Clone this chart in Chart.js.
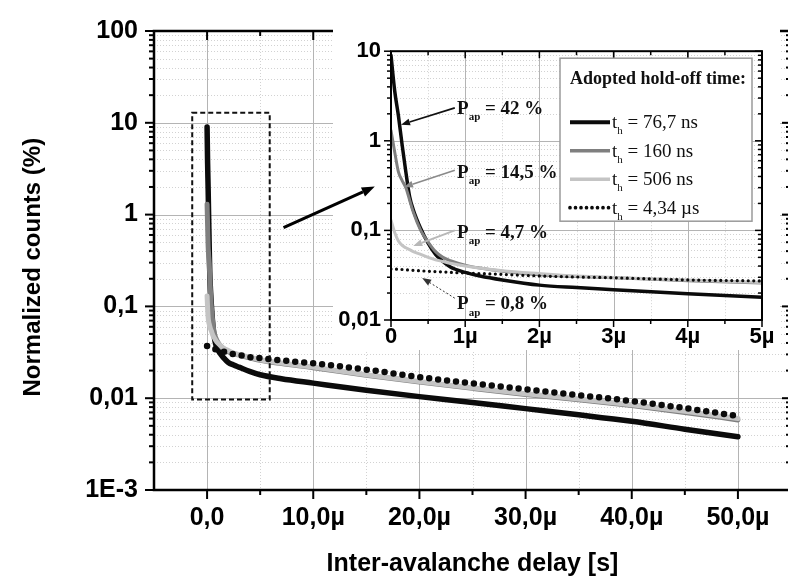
<!DOCTYPE html>
<html>
<head>
<meta charset="utf-8">
<title>Inter-avalanche delay</title>
<script src="https://cdn.jsdelivr.net/npm/chart.js@4.4.1/dist/chart.umd.min.js"></script>
<style>
  body { margin: 0; background: #fff; }
  #wrap { position: relative; width: 788px; height: 581px; overflow: hidden; }
  #mainChart { position: absolute; left: 0; top: 0; }
  #insetChart { position: absolute; left: 333px; top: 28px; }
</style>
</head>
<body>
<div id="wrap">
  <canvas id="mainChart" width="791" height="581"></canvas>
  <canvas id="insetChart" width="447" height="322"></canvas>
</div>
<script>
// inter-avalanche delay, microseconds
var delay = [0, 0.05, 0.1, 0.15, 0.2, 0.25, 0.3, 0.4, 0.5, 0.6, 0.7, 0.8, 1.0, 1.2, 1.5,
             2, 2.5, 3, 4, 5, 7, 10, 15, 20, 25, 30, 35, 40, 45, 50];
// normalized counts (%) for each hold-off time
var counts767 = [9.0, 3.6, 1.9, 0.9, 0.45, 0.24, 0.17, 0.105, 0.072, 0.054, 0.045, 0.039, 0.034, 0.031, 0.028,
                 0.0245, 0.023, 0.0218, 0.0196, 0.018, 0.0163, 0.0146, 0.0122, 0.0104, 0.009, 0.0077, 0.0066, 0.0056, 0.0046, 0.0038];
var counts160 = [1.3, 0.75, 0.45, 0.36, 0.3, 0.22, 0.16, 0.1, 0.074, 0.058, 0.05, 0.046, 0.041, 0.038, 0.035,
                 0.032, 0.0305, 0.0296, 0.0275, 0.0258, 0.0238, 0.0215, 0.0178, 0.015, 0.0128, 0.011, 0.0096, 0.0083, 0.007, 0.0058];
var counts506 = [0.13, 0.095, 0.076, 0.068, 0.064, 0.061, 0.058, 0.054, 0.05, 0.047, 0.045, 0.043, 0.04, 0.038, 0.0355,
                 0.033, 0.031, 0.0298, 0.028, 0.0262, 0.0242, 0.0218, 0.018, 0.0152, 0.013, 0.0112, 0.0098, 0.0085, 0.0072, 0.006];
var counts434 = [0.037, 0.037, 0.0368, 0.0366, 0.0364, 0.036, 0.0358, 0.0354, 0.035, 0.0347, 0.0344, 0.034, 0.0335, 0.033, 0.0323,
                 0.031, 0.0302, 0.0296, 0.028, 0.0273, 0.0258, 0.024, 0.0205, 0.017, 0.0145, 0.0125, 0.0108, 0.0093, 0.0078, 0.0064];
var seriesNames = ['76,7 ns', '160 ns', '506 ns', '4,34 \u00b5s'];

var mainXTicks = [0, 10, 20, 30, 40, 50];
var mainXLabels = ['0,0', '10,0\u00b5', '20,0\u00b5', '30,0\u00b5', '40,0\u00b5', '50,0\u00b5'];
var mainYTicks = [0.001, 0.01, 0.1, 1, 10, 100];
var mainYLabels = ['1E-3', '0,01', '0,1', '1', '10', '100'];
var insetXTicks = [0, 1, 2, 3, 4, 5];
var insetXLabels = ['0', '1\u00b5', '2\u00b5', '3\u00b5', '4\u00b5', '5\u00b5'];
var insetYTicks = [0.01, 0.1, 1, 10];
var insetYLabels = ['0,01', '0,1', '1', '10'];

// afterpulsing probability call-outs in the inset
var apLabels = ['42 %', '14,5 %', '4,7 %', '0,8 %'];
var apTextY = [2.33, 0.46, 0.097, 0.0155];
var apTailY = [2.33, 0.47, 0.1, 0.0175];
var apTipX = [0.135, 0.175, 0.3, 0.42];
var apTipY = [1.51, 0.305, 0.067, 0.0295];

var SANS = '"Liberation Sans", Arial, sans-serif';
var SERIF = '"Liberation Serif", "Times New Roman", serif';
var seriesColors = ['#0b0b0b', '#7f7f7f', '#c4c4c4', '#0b0b0b'];

function makeDatasets(widths, dots) {
    var all = [counts767, counts160, counts506, counts434];
    return all.map(function (ys, i) {
        return {
            label: seriesNames[i],
            data: delay.map(function (x, j) { return { x: x, y: ys[j] }; }),
            borderColor: seriesColors[i],
            borderWidth: widths[i],
            borderDash: i === 3 ? dots : [],
            borderCapStyle: 'round',
            borderJoinStyle: 'round',
            cubicInterpolationMode: 'monotone',
            pointRadius: 0,
            fill: false,
            order: 3 - i
        };
    });
}

function logSteps(min, max) {
    var out = [];
    for (var e = Math.round(Math.log10(min)); e <= Math.round(Math.log10(max)); e++) {
        for (var k = 1; k < 10; k++) {
            var v = k * Math.pow(10, e);
            if (v > max * 1.0001) break;
            out.push({ value: v, major: k === 1 });
        }
    }
    return out;
}

function seg(ctx, x0, y0, x1, y1) {
    ctx.beginPath(); ctx.moveTo(x0, y0); ctx.lineTo(x1, y1); ctx.stroke();
}

function drawGrid(chart, xMajor, xMinor) {
    var ctx = chart.ctx, a = chart.chartArea, sx = chart.scales.x, sy = chart.scales.y;
    var steps = logSteps(sy.min, sy.max);
    ctx.save();
    ctx.lineWidth = 1;
    ctx.setLineDash([1, 2]);
    ctx.strokeStyle = '#d2d2d2';
    xMinor.forEach(function (v) {
        var x = Math.round(sx.getPixelForValue(v)) + 0.5;
        seg(ctx, x, a.top, x, a.bottom);
    });
    steps.forEach(function (s) {
        if (s.major) return;
        var y = Math.round(sy.getPixelForValue(s.value)) + 0.5;
        seg(ctx, a.left, y, a.right, y);
    });
    ctx.setLineDash([]);
    ctx.strokeStyle = '#b4b4b4';
    xMajor.forEach(function (v) {
        var x = Math.round(sx.getPixelForValue(v)) + 0.5;
        seg(ctx, x, a.top, x, a.bottom);
    });
    steps.forEach(function (s) {
        if (!s.major) return;
        var y = Math.round(sy.getPixelForValue(s.value)) + 0.5;
        seg(ctx, a.left, y, a.right, y);
    });
    ctx.restore();
}

function drawFrame(chart, xMajor, xMinor, t) {
    var ctx = chart.ctx, a = chart.chartArea, sx = chart.scales.x, sy = chart.scales.y;
    ctx.save();
    ctx.strokeStyle = '#000';
    ctx.lineWidth = t.tickWidth;
    xMajor.concat(xMinor).forEach(function (v, i) {
        var len = i < xMajor.length ? t.major : t.minor;
        var x = sx.getPixelForValue(v);
        seg(ctx, x, a.bottom, x, a.bottom + len);
        seg(ctx, x, a.top, x, a.top + len);
    });
    logSteps(sy.min, sy.max).forEach(function (s) {
        var len = s.major ? t.major : t.minor;
        var y = sy.getPixelForValue(s.value);
        seg(ctx, a.left - len, y, a.left, y);
        seg(ctx, a.right - len, y, a.right, y);
    });
    ctx.lineWidth = t.frameWidth;
    ctx.strokeRect(a.left, a.top, a.right - a.left, a.bottom - a.top);
    ctx.restore();
}

function arrow(ctx, x1, y1, x2, y2, head, color, width, dash) {
    var ang = Math.atan2(y2 - y1, x2 - x1);
    var bx = x2 - head * Math.cos(ang), by = y2 - head * Math.sin(ang);
    var hw = head * 0.38;
    ctx.save();
    ctx.strokeStyle = color;
    ctx.fillStyle = color;
    ctx.lineWidth = width;
    ctx.setLineDash(dash || []);
    seg(ctx, x1, y1, bx, by);
    ctx.setLineDash([]);
    ctx.beginPath();
    ctx.moveTo(x2, y2);
    ctx.lineTo(bx + hw * Math.sin(ang), by - hw * Math.cos(ang));
    ctx.lineTo(bx - hw * Math.sin(ang), by + hw * Math.cos(ang));
    ctx.closePath();
    ctx.fill();
    ctx.restore();
}

function subText(ctx, x, y, base, sub, rest, size, weight) {
    ctx.font = weight + ' ' + size + 'px ' + SERIF;
    ctx.fillText(base, x, y);
    x += ctx.measureText(base).width;
    ctx.font = weight + ' ' + Math.round(size * 0.58) + 'px ' + SERIF;
    ctx.fillText(sub, x, y + size * 0.32);
    x += ctx.measureText(sub).width;
    ctx.font = weight + ' ' + size + 'px ' + SERIF;
    ctx.fillText(rest, x, y);
}

var mainXMinor = mainXTicks.map(function (v) { return v + 5; }).filter(function (v) { return v < 55; });
var insetXMinor = insetXTicks.map(function (v) { return v + 0.5; }).filter(function (v) { return v < 5; });

var mainDecor = {
    id: 'mainDecor',
    beforeDatasetsDraw: function (chart) { drawGrid(chart, mainXTicks, mainXMinor); },
    afterDatasetsDraw: function (chart) {
        drawFrame(chart, mainXTicks, mainXMinor, { major: 9, minor: 5, tickWidth: 2, frameWidth: 2.5 });
    },
    afterDraw: function (chart) {
        var ctx = chart.ctx, sx = chart.scales.x, sy = chart.scales.y;
        var inset = document.getElementById('insetChart');
        ctx.save();
        ctx.fillStyle = '#fff';
        ctx.fillRect(inset.offsetLeft, inset.offsetTop, inset.width, inset.height);
        // region that the inset enlarges
        var x0 = sx.getPixelForValue(-1.4), x1 = sx.getPixelForValue(5.9);
        var y0 = sy.getPixelForValue(12.9), y1 = sy.getPixelForValue(0.0097);
        ctx.strokeStyle = '#111';
        ctx.lineWidth = 2;
        ctx.setLineDash([5, 3]);
        ctx.strokeRect(x0, y0, x1 - x0, y1 - y0);
        ctx.restore();
        arrow(ctx, sx.getPixelForValue(7.2), sy.getPixelForValue(0.72),
              sx.getPixelForValue(15.8), sy.getPixelForValue(2.02), 13, '#000', 3);
    }
};

var insetDecor = {
    id: 'insetDecor',
    beforeDatasetsDraw: function (chart) { drawGrid(chart, insetXTicks, insetXMinor); },
    afterDatasetsDraw: function (chart) {
        var ctx = chart.ctx, a = chart.chartArea, sx = chart.scales.x, sy = chart.scales.y;
        drawFrame(chart, insetXTicks, insetXMinor, { major: 7, minor: 4, tickWidth: 1.5, frameWidth: 2 });

        // legend box
        var bw = 192, bh = 163, bx = a.right - 10 - bw, by = a.top + 7;
        ctx.save();
        ctx.fillStyle = '#fff';
        ctx.fillRect(bx, by, bw, bh);
        ctx.strokeStyle = '#9a9a9a';
        ctx.lineWidth = 1.5;
        ctx.strokeRect(bx, by, bw, bh);
        ctx.fillStyle = '#111';
        ctx.textBaseline = 'alphabetic';
        ctx.font = 'bold 18px ' + SERIF;
        ctx.fillText('Adopted hold-off time:', bx + 10, by + 26);
        chart.data.datasets.forEach(function (ds, i) {
            var y = by + 64 + i * 28.5;
            ctx.save();
            ctx.strokeStyle = ds.borderColor;
            ctx.lineWidth = ds.borderWidth + 0.5;
            ctx.lineCap = i === 3 ? 'round' : 'butt';
            ctx.setLineDash(ds.borderDash);
            seg(ctx, bx + 10, y, bx + 50, y);
            ctx.restore();
            subText(ctx, bx + 52, y + 6, 't', 'h', ' = ' + seriesNames[i], 19, 'normal');
        });

        // call-outs
        var styles = [
            { c: '#111', w: 1.6, d: [] },
            { c: '#8a8a8a', w: 1.6, d: [] },
            { c: '#b8b8b8', w: 2, d: [] },
            { c: '#333', w: 1, d: [2, 2] }
        ];
        apLabels.forEach(function (lbl, i) {
            ctx.fillStyle = '#111';
            subText(ctx, sx.getPixelForValue(0.89), sy.getPixelForValue(apTextY[i]) + 6.5,
                    'P', 'ap', ' = ' + lbl, 19, 'bold');
            arrow(ctx, sx.getPixelForValue(0.86), sy.getPixelForValue(apTailY[i]),
                  sx.getPixelForValue(apTipX[i]), sy.getPixelForValue(apTipY[i]),
                  9, styles[i].c, styles[i].w, styles[i].d);
        });
        ctx.restore();
    }
};

function tickFont(size) { return { family: SANS, size: size, weight: 'bold' }; }

new Chart(document.getElementById('mainChart'), {
    type: 'line',
    data: { datasets: makeDatasets([5.5, 5, 5, 6.5], [0, 9]) },
    options: {
        responsive: false,
        animation: false,
        layout: { padding: { top: 18, right: 0, bottom: 0, left: 0 } },
        plugins: { legend: { display: false }, tooltip: { enabled: false } },
        scales: {
            x: {
                type: 'linear', min: -5, max: 55,
                afterBuildTicks: function (s) { s.ticks = mainXTicks.map(function (v) { return { value: v }; }); },
                afterFit: function (s) { s.height = 91; },
                grid: { display: false, drawTicks: false },
                border: { display: false },
                ticks: {
                    autoSkip: false, maxRotation: 0, padding: 13, color: '#000', font: tickFont(25),
                    callback: function (v) { return mainXLabels[mainXTicks.indexOf(v)]; }
                },
                title: {
                    display: true, text: 'Inter-avalanche delay [s]', color: '#000',
                    font: tickFont(25), padding: { top: 0, bottom: 2 }
                }
            },
            y: {
                type: 'logarithmic', min: 0.001, max: 100,
                afterBuildTicks: function (s) { s.ticks = mainYTicks.map(function (v) { return { value: v }; }); },
                afterFit: function (s) { s.width = 154; },
                grid: { display: false, drawTicks: false },
                border: { display: false },
                ticks: {
                    padding: 16, color: '#000', font: tickFont(25),
                    callback: function (v) { return mainYLabels[mainYTicks.indexOf(v)]; }
                },
                title: {
                    display: true, text: 'Normalized counts (%)  ', color: '#000',
                    font: tickFont(24), padding: { top: 19, bottom: 0 }
                }
            }
        }
    },
    plugins: [mainDecor]
});

new Chart(document.getElementById('insetChart'), {
    type: 'line',
    data: { datasets: makeDatasets([3.5, 3, 3, 3.2], [0, 5.5]) },
    options: {
        responsive: false,
        animation: false,
        layout: { padding: { top: 17, right: 18, bottom: 0, left: 0 } },
        plugins: { legend: { display: false }, tooltip: { enabled: false } },
        scales: {
            x: {
                type: 'linear', min: 0, max: 5,
                afterBuildTicks: function (s) { s.ticks = insetXTicks.map(function (v) { return { value: v }; }); },
                afterFit: function (s) { s.height = 30; },
                grid: { display: false, drawTicks: false },
                border: { display: false },
                ticks: {
                    autoSkip: false, maxRotation: 0, padding: 4, color: '#000', font: tickFont(22),
                    callback: function (v) { return insetXLabels[insetXTicks.indexOf(v)]; }
                }
            },
            y: {
                type: 'logarithmic', min: 0.01, max: 10,
                afterBuildTicks: function (s) { s.ticks = insetYTicks.map(function (v) { return { value: v }; }); },
                afterFit: function (s) { s.width = 58; },
                grid: { display: false, drawTicks: false },
                border: { display: false },
                ticks: {
                    padding: 10, color: '#000', font: tickFont(22),
                    callback: function (v) { return insetYLabels[insetYTicks.indexOf(v)]; }
                }
            }
        }
    },
    plugins: [insetDecor]
});
</script>
</body>
</html>
